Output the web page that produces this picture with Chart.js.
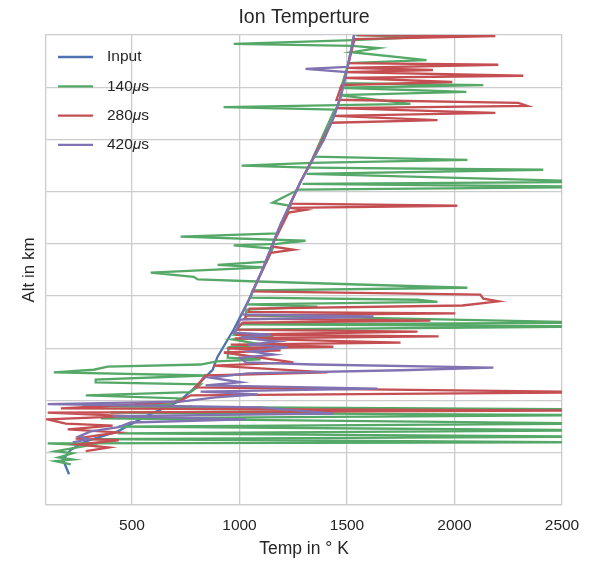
<!DOCTYPE html>
<html>
<head>
<meta charset="utf-8">
<script src="https://cdn.jsdelivr.net/npm/chart.js@4.4.0/dist/chart.umd.min.js"></script>
<style>
  body { margin: 0; background: #fff; }
</style>
</head>
<body>
<canvas id="ion-chart" width="594" height="563"></canvas>
<script>
const FONT = '"Liberation Sans", Arial, sans-serif';
const TEXT = '#262626';
const GRID = '#cccccc';

// x axis ticks (K); y axis has grid every 100 km but no labels
const xTicks = [500, 1000, 1500, 2000, 2500];

const chartTitle = 'Ion Temperture';
const seriesLabels = ['Input', '140μs', '280μs', '420μs'];
const seriesColors = ['#4C72B0', '#55A868', '#C44E52', '#8172B2'];

// Input profile
const altInput = [159, 187, 206, 222, 231, 241, 270, 298, 321, 340, 359, 384, 436, 488, 551, 637, 719, 765, 799, 843, 881, 939, 1000];
const tempInput = [207, 179, 216, 285, 355, 434, 564, 717, 782, 829, 875, 898, 973, 1038, 1107, 1191, 1284, 1345, 1391, 1438, 1470, 1503, 1533];

// 140 us (values past 2500 run off the plot)
const alt140 = [1000, 996, 990, 983, 979, 975, 967, 952, 946, 908,
  904, 899, 891, 885, 868, 862, 857, 767, 761, 755,
  750, 746, 742, 734, 719, 715, 709, 704, 679, 673,
  620, 614, 606, 600, 597, 591, 566, 560, 555, 545,
  537, 532, 528, 516, 511, 497, 493, 489, 484, 480,
  474, 463, 449, 446, 442, 436, 426, 423, 417, 407,
  402, 382, 379, 375, 369, 365, 359, 354, 348, 340,
  335, 331, 316, 310, 304, 293, 289, 283, 277, 272,
  266, 256, 250, 243, 237, 231, 226, 220, 218, 214,
  203, 199, 191, 187, 184, 178];
const temp140 = [1540, 1842, 1530, 973, 1526, 1646, 1521, 1870, 1507, 1479,
  2134, 1465, 2055, 1460, 1795, 926, 1442, 1344, 2060, 1335,
  1010, 1326, 2413, 1312, 2700, 1293, 2700, 1275, 1154, 1237,
  1177, 726, 1307, 1172, 973, 1154, 1126, 898, 1116, 587,
  787, 806, 1084, 2060, 1061, 1052, 1828, 1921, 1038, 1363,
  1033, 1028, 2700, 1005, 2700, 987, 973, 1158, 968, 1107,
  950, 945, 1098, 894, 819, 387, 322, 136, 842, 331,
  331, 819, 773, 285, 726, 680, 271, 2700, 401, 2700,
  355, 2700, 434, 2700, 434, 2700, 308, 2700, 108, 299,
  145, 224, 159, 224, 145, 215];

// 280 us
const alt280 = [1000, 998, 992, 946, 943, 937, 933, 929, 922, 918,
  910, 904, 876, 870, 864, 860, 851, 845, 837, 832,
  719, 677, 673, 669, 665, 660, 595, 589, 583, 509,
  503, 495, 490, 482, 476, 470, 467, 463, 457, 453,
  449, 436, 432, 426, 423, 419, 411, 407, 403, 400,
  396, 392, 373, 367, 354, 348, 325, 316, 310, 298,
  291, 285, 281, 277, 270, 264, 256, 252, 245, 239,
  227, 224, 216, 210, 203];
const temp280 = [1545, 2190, 1535, 1507, 2204, 1498, 1900, 1489, 2320, 1484,
  1990, 1475, 1451, 2297, 2339, 1447, 2190, 1437, 1921, 1428,
  1284, 1237, 2013, 1233, 1307, 1228, 1149, 1251, 1145, 1061,
  2120, 2134, 2204, 2037, 1047, 1042, 2004, 1033, 1024, 1888,
  1014, 987, 1828, 982, 1926, 978, 1749, 959, 1437, 941,
  1191, 927, 1251, 880, 1409, 842, 796, 2700, 773, 717,
  448, 169, 2700, 108, 485, 108, 192, 410, 201, 434,
  238, 438, 252, 392, 285];

// 420 us
const alt420 = [1000, 939, 935, 929, 881, 843, 799, 765, 719, 637,
  551, 488, 465, 461, 455, 436, 430, 426, 421, 413,
  407, 402, 394, 388, 382, 373, 369, 363, 358, 352,
  344, 335, 329, 323, 317, 312, 306, 298, 293, 287,
  275, 270, 264, 258, 249, 241, 231, 226, 220];
const temp420 = [1533, 1503, 1307, 1498, 1470, 1438, 1391, 1345, 1284, 1191,
  1107, 1038, 1010, 1623, 1002, 987, 973, 1145, 1005, 1177,
  1038, 1224, 1052, 1159, 1005, 1028, 1345, 2181, 1749, 1038,
  866, 1005, 842, 1642, 819, 1084, 889, 726, 108, 1098,
  1437, 410, 1028, 494, 438, 308, 252, 299, 224];

const toPoints = (temps, alts) => temps.map((t, i) => ({ x: t, y: alts[i] }));

const seriesData = [
  toPoints(tempInput, altInput),
  toPoints(temp140, alt140),
  toPoints(temp280, alt280),
  toPoints(temp420, alt420),
];

// lower order is painted last, so 420us ends up on top like in matplotlib
const datasets = seriesData.map((data, i) => ({
  label: seriesLabels[i],
  data,
  showLine: true,
  borderColor: seriesColors[i],
  backgroundColor: seriesColors[i],
  borderWidth: 2.3,
  pointRadius: 0,
  tension: 0,
  fill: false,
  clip: 0,
  order: seriesLabels.length - 1 - i,
}));

// title centred over the axes, legend inside the axes with no frame
const axesDecor = {
  id: 'axesDecor',
  afterDraw(chart) {
    const { ctx, chartArea } = chart;
    ctx.save();
    ctx.fillStyle = TEXT;
    ctx.textAlign = 'center';
    ctx.textBaseline = 'middle';
    ctx.font = '19.5px ' + FONT;
    ctx.fillText(chartTitle, (chartArea.left + chartArea.right) / 2, chartArea.top - 17);

    ctx.textAlign = 'left';
    seriesLabels.forEach((label, i) => {
      const y = chartArea.top + 22 + i * 29.3;
      const x0 = chartArea.left + 12;
      ctx.strokeStyle = seriesColors[i];
      ctx.lineWidth = 2.3;
      ctx.beginPath();
      ctx.moveTo(x0, y);
      ctx.lineTo(x0 + 35, y);
      ctx.stroke();
      let x = x0 + 49;
      label.split(/(μ)/).forEach(part => {
        if (!part) return;
        ctx.font = (part === 'μ' ? 'italic ' : '') + '15.5px ' + FONT;
        ctx.fillText(part, x, y);
        x += ctx.measureText(part).width;
      });
    });
    ctx.restore();
  }
};

new Chart(document.getElementById('ion-chart'), {
  type: 'scatter',
  data: { datasets },
  plugins: [axesDecor],
  options: {
    responsive: false,
    animation: false,
    devicePixelRatio: 1,
    layout: { padding: { left: 0, right: 32, top: 35, bottom: 0 } },
    font: { family: FONT },
    scales: {
      x: {
        type: 'linear',
        min: 100,
        max: 2500,
        afterBuildTicks: s => { s.ticks = xTicks.map(v => ({ value: v })); },
        afterFit: s => { s.height = 58; },
        grid: { color: GRID, lineWidth: 1.3, drawTicks: false },
        border: { color: GRID, width: 1.3 },
        ticks: {
          color: TEXT, font: { family: FONT, size: 15.5 }, padding: 11,
          callback: v => String(v)
        },
        title: {
          display: true, text: 'Temp in ° K', color: TEXT,
          font: { family: FONT, size: 17.5 }, padding: { top: 0, bottom: 3.2 }
        }
      },
      y: {
        type: 'linear',
        min: 100,
        max: 1000,
        afterFit: s => { s.width = 46; },
        grid: { color: GRID, lineWidth: 1.3, drawTicks: false },
        border: { color: GRID, width: 1.3 },
        ticks: { display: false, stepSize: 100 },
        title: {
          display: true, text: 'Alt in km', color: TEXT,
          font: { family: FONT, size: 17 }, padding: { top: 19.5, bottom: 0 }
        }
      }
    },
    plugins: {
      legend: { display: false },
      tooltip: { enabled: false },
      title: { display: false }
    }
  }
});
</script>
</body>
</html>
